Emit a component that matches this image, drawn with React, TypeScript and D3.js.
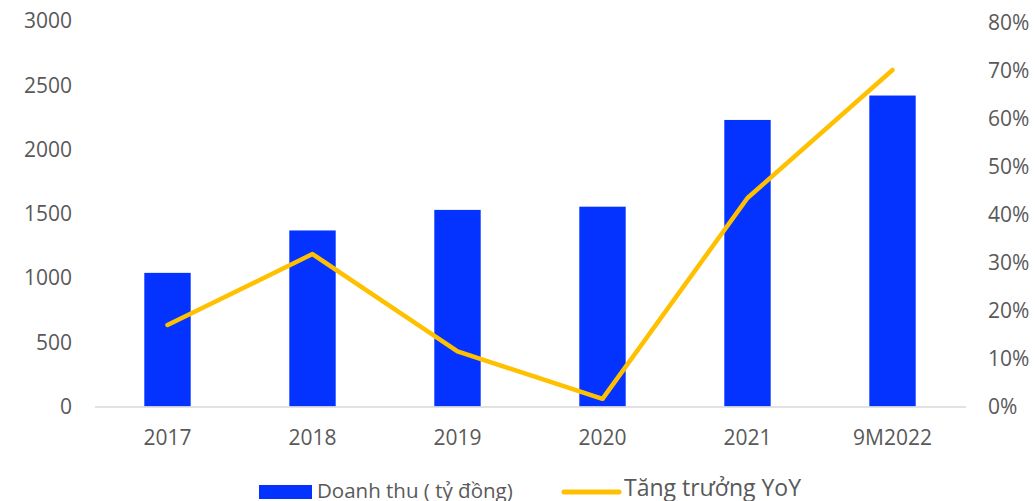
import React from "react";
import * as d3 from "d3";

const categories = ["2017", "2018", "2019", "2020", "2021", "9M2022"];
const revenue = [1040, 1370, 1530, 1555, 2230, 2420];
const growth = [0.17, 0.318, 0.115, 0.016, 0.435, 0.702];
const leftTicks = [0, 500, 1000, 1500, 2000, 2500, 3000];
const rightTicks = [0, 0.1, 0.2, 0.3, 0.4, 0.5, 0.6, 0.7, 0.8];

const W = 1035;
const H = 501;
const FONT = "'Open Sans', sans-serif";
const TXT = "#595959";

export default function App() {
  const x = d3.scaleBand().domain(categories).range([95, 965]).paddingInner(0.68).paddingOuter(0.34);
  const yL = d3.scaleLinear().domain([0, 3000]).range([406.5, 21]);
  const yR = d3.scaleLinear().domain([0, 0.8]).range([406.5, 23]);
  const line = d3
    .line<number>()
    .x((_, i) => (x(categories[i]) as number) + x.bandwidth() / 2)
    .y((d) => yR(d));

  return (
    <svg width={W} height={H} style={{ position: "absolute", left: 0, top: 0, background: "#fff" }}>
      {revenue.map((v, i) => (
        <rect
          key={categories[i]}
          x={x(categories[i])}
          y={yL(v)}
          width={x.bandwidth()}
          height={yL(0) - yL(v)}
          fill="#0433FF"
        />
      ))}
      <line x1={95} x2={966} y1={407} y2={407} stroke="#D9D9D9" strokeWidth={1.5} />
      <path d={line(growth) || ""} fill="none" stroke="#FFC000" strokeWidth={4.5} strokeLinejoin="round" strokeLinecap="round" />
      {leftTicks.map((t) => (
        <text key={t} x={72} y={yL(t)} dy="0.35em" textAnchor="end" fontFamily={FONT} fontSize={21} fill={TXT}>
          {t}
        </text>
      ))}
      {rightTicks.map((t) => (
        <text key={t} x={988} y={yR(t)} dy="0.35em" textAnchor="start" fontFamily={FONT} fontSize={21} fill={TXT}>
          {d3.format(".0%")(t)}
        </text>
      ))}
      {categories.map((c) => (
        <text
          key={c}
          x={(x(c) as number) + x.bandwidth() / 2}
          y={438}
          dy="0.35em"
          textAnchor="middle"
          fontFamily={FONT}
          fontSize={21}
          fill={TXT}
        >
          {c}
        </text>
      ))}
      <rect x={259} y={485} width={53} height={14} fill="#0433FF" />
      <text x={317} y={498} fontFamily={FONT} fontSize={20.5} fill={TXT}>
        Doanh thu ( tỷ đồng)
      </text>
      <line x1={564} x2={619} y1={492} y2={492} stroke="#FFC000" strokeWidth={5} strokeLinecap="round" />
      <text x={624} y={496} fontFamily={FONT} fontSize={23} fill={TXT}>
        Tăng trưởng YoY
      </text>
    </svg>
  );
}
